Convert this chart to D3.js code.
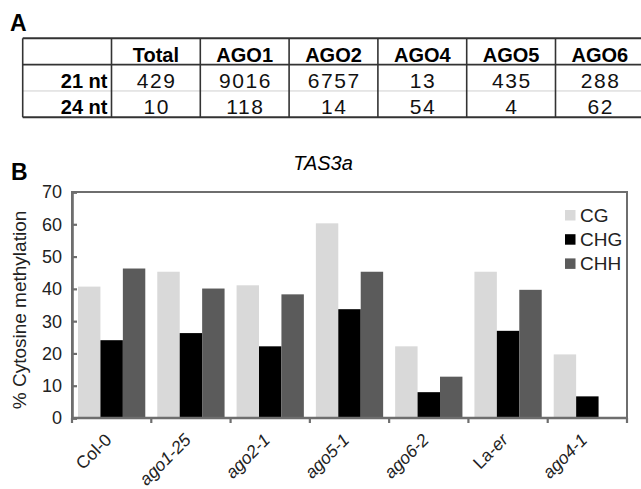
<!DOCTYPE html>
<html><head><meta charset="utf-8">
<script src="https://cdn.jsdelivr.net/npm/d3@7"></script>
<style>body{margin:0;background:#fff} svg{display:block;font-family:"Liberation Sans",Arial,sans-serif}</style>
</head><body><svg id="c" width="641" height="489"></svg>
<script>
// ---- Table data (panel A) ----
const tableColumns = ["", "Total", "AGO1", "AGO2", "AGO4", "AGO5", "AGO6"];
const tableRows = ["21 nt", "24 nt"];
const counts21nt = [429, 9016, 6757, 13, 435, 288];
const counts24nt = [10, 118, 14, 54, 4, 62];

// ---- Chart data (panel B) ----
const categories = ["Col-0", "ago1-25", "ago2-1", "ago5-1", "ago6-2", "La-er", "ago4-1"];
const seriesNames = ["CG", "CHG", "CHH"];
const cgValues  = [40.7, 45.3, 41.1, 60.3, 22.2, 45.3, 19.7];
const chgValues = [24.1, 26.3, 22.2, 33.7, 8.0, 27.0, 6.7];
const chhValues = [46.3, 40.1, 38.3, 45.3, 12.8, 39.7, 0];
const yTicks = [0, 10, 20, 30, 40, 50, 60, 70];
const seriesColors = ["#d9d9d9", "#000000", "#5b5b5b"];

const svg = d3.select("#c");

// ================= Panel A: table =================
svg.append("text").attr("x", 10).attr("y", 31).attr("font-size", 23).attr("font-weight", "bold").text("A");

const tLeft = 22.7, colW = 88.8, tTop = 38.3, tBottom = 117.3;
const colX = d3.scaleBand().domain(d3.range(tableColumns.length)).range([tLeft, tLeft + colW * tableColumns.length]);
const rowY = d3.scaleBand().domain(["head"].concat(tableRows)).range([tTop, tBottom]);
const tg = svg.append("g");
const tRight = tLeft + colW * tableColumns.length;
// horizontal lines
tg.append("line").attr("x1", tLeft).attr("x2", tRight).attr("y1", tTop).attr("y2", tTop).attr("stroke", "#333").attr("stroke-width", 2);
tg.append("line").attr("x1", tLeft).attr("x2", tRight).attr("y1", rowY(tableRows[0])).attr("y2", rowY(tableRows[0])).attr("stroke", "#333").attr("stroke-width", 1.6);
tg.append("line").attr("x1", tLeft).attr("x2", tRight).attr("y1", rowY(tableRows[1])).attr("y2", rowY(tableRows[1])).attr("stroke", "#cfcfcf").attr("stroke-width", 1);
tg.append("line").attr("x1", tLeft).attr("x2", tRight).attr("y1", tBottom).attr("y2", tBottom).attr("stroke", "#333").attr("stroke-width", 2);
// vertical lines
tg.selectAll("line.v").data(d3.range(tableColumns.length + 1)).join("line").attr("class", "v")
  .attr("x1", i => tLeft + i * colW).attr("x2", i => tLeft + i * colW)
  .attr("y1", tTop).attr("y2", tBottom).attr("stroke", "#333").attr("stroke-width", 1.6);
// headers
tg.selectAll("text.h").data(tableColumns.slice(1)).join("text").attr("class", "h")
  .attr("x", (d, i) => colX(i + 1) + colW / 2).attr("y", tTop + 23.2)
  .attr("text-anchor", "middle").attr("font-size", 20).attr("font-weight", "bold").text(d => d);
// row labels
tg.selectAll("text.r").data(tableRows).join("text").attr("class", "r")
  .attr("x", colX(1) - 4).attr("y", d => rowY(d) + 23)
  .attr("text-anchor", "end").attr("font-size", 20).attr("font-weight", "bold").text(d => d);
// values
[counts21nt, counts24nt].forEach((vals, r) => {
  tg.selectAll("text.n" + r).data(vals).join("text").attr("class", "n" + r)
    .attr("x", (d, i) => colX(i + 1) + colW / 2 + 0.8).attr("y", rowY(tableRows[r]) + 23)
    .attr("text-anchor", "middle").attr("font-size", 21).attr("letter-spacing", 1.6).attr("fill", "#111").text(d => d);
});

// ================= Panel B: bar chart =================
svg.append("text").attr("x", 11).attr("y", 180).attr("font-size", 23).attr("font-weight", "bold").text("B");
svg.append("text").attr("x", 323).attr("y", 170).attr("text-anchor", "middle").attr("font-size", 20).attr("font-style", "italic").text("TAS3a");

const pL = 72, pR = 627, pT = 192, pB = 418;
const x0 = d3.scaleBand().domain(categories).range([pL, pR]).padding(0);
const x1 = d3.scaleBand().domain(seriesNames).range([6, x0.bandwidth() - 6]).padding(0);
const y = d3.scaleLinear().domain([0, 70]).range([pB, pT]);
const color = d3.scaleOrdinal().domain(seriesNames).range(seriesColors);

const seriesValues = [cgValues, chgValues, chhValues];
const barData = [];
categories.forEach((c, i) => seriesNames.forEach((s, j) => barData.push({ c, s, v: seriesValues[j][i] })));

svg.append("g").selectAll("rect").data(barData.filter(d => d.v > 0)).join("rect")
  .attr("x", d => x0(d.c) + x1(d.s)).attr("width", x1.bandwidth())
  .attr("y", d => y(d.v)).attr("height", d => y(0) - y(d.v))
  .attr("fill", d => color(d.s));

// plot frame
const axisColor = "#6e6e6e";
svg.append("rect").attr("x", pL).attr("y", pT).attr("width", pR - pL).attr("height", pB - pT)
  .attr("fill", "none").attr("stroke", axisColor).attr("stroke-width", 2);

// y axis (ticks inward)
const yAxis = d3.axisRight(y).tickValues(yTicks).tickSize(5).tickFormat("");
const yg = svg.append("g").attr("transform", `translate(${pL},0)`).call(yAxis);
yg.select(".domain").attr("stroke", axisColor).attr("stroke-width", 2.6);
yg.selectAll(".tick line").attr("stroke", axisColor).attr("stroke-width", 2.2);
svg.append("g").selectAll("text").data(yTicks).join("text")
  .attr("x", 62).attr("y", d => y(d)).attr("dy", "0.36em").attr("text-anchor", "end")
  .attr("font-size", 18).attr("fill", "#222").text(d => d);

// x axis (ticks at category boundaries, outward)
const boundaries = categories.map(c => x0(c)).concat([pR]);
const xg = svg.append("g");
xg.append("line").attr("x1", pL).attr("x2", pR).attr("y1", pB).attr("y2", pB).attr("stroke", axisColor).attr("stroke-width", 2.6);
xg.selectAll("line.t").data(boundaries).join("line").attr("class", "t")
  .attr("x1", d => d).attr("x2", d => d).attr("y1", pB).attr("y2", pB + 5)
  .attr("stroke", axisColor).attr("stroke-width", 2.2);

// x labels
const lab = svg.append("g").selectAll("text").data(categories).join("text")
  .attr("transform", d => `translate(${x0(d) + x0.bandwidth() / 2 + 1},${pB + 23}) rotate(-45)`)
  .attr("text-anchor", "end").attr("font-size", 17.5).attr("fill", "#222");
lab.each(function (d) {
  const t = d3.select(this);
  if (d === "Col-0") t.text(d);
  else if (d === "La-er") { t.append("tspan").text("La-"); t.append("tspan").attr("font-style", "italic").text("er"); }
  else t.attr("font-style", "italic").text(d);
});

// y title
svg.append("text").attr("transform", "translate(26,310) rotate(-90)").attr("text-anchor", "middle")
  .attr("font-size", 19).attr("fill", "#222").text("% Cytosine methylation");

// legend
const lg = svg.append("g").selectAll("g").data(seriesNames).join("g")
  .attr("transform", (d, i) => `translate(565,${210 + i * 24.2})`);
lg.append("rect").attr("width", 10.5).attr("height", 10.5).attr("fill", d => color(d));
lg.append("text").attr("x", 15).attr("y", 11.5).attr("font-size", 19).attr("fill", "#222").text(d => d);
</script></body></html>
